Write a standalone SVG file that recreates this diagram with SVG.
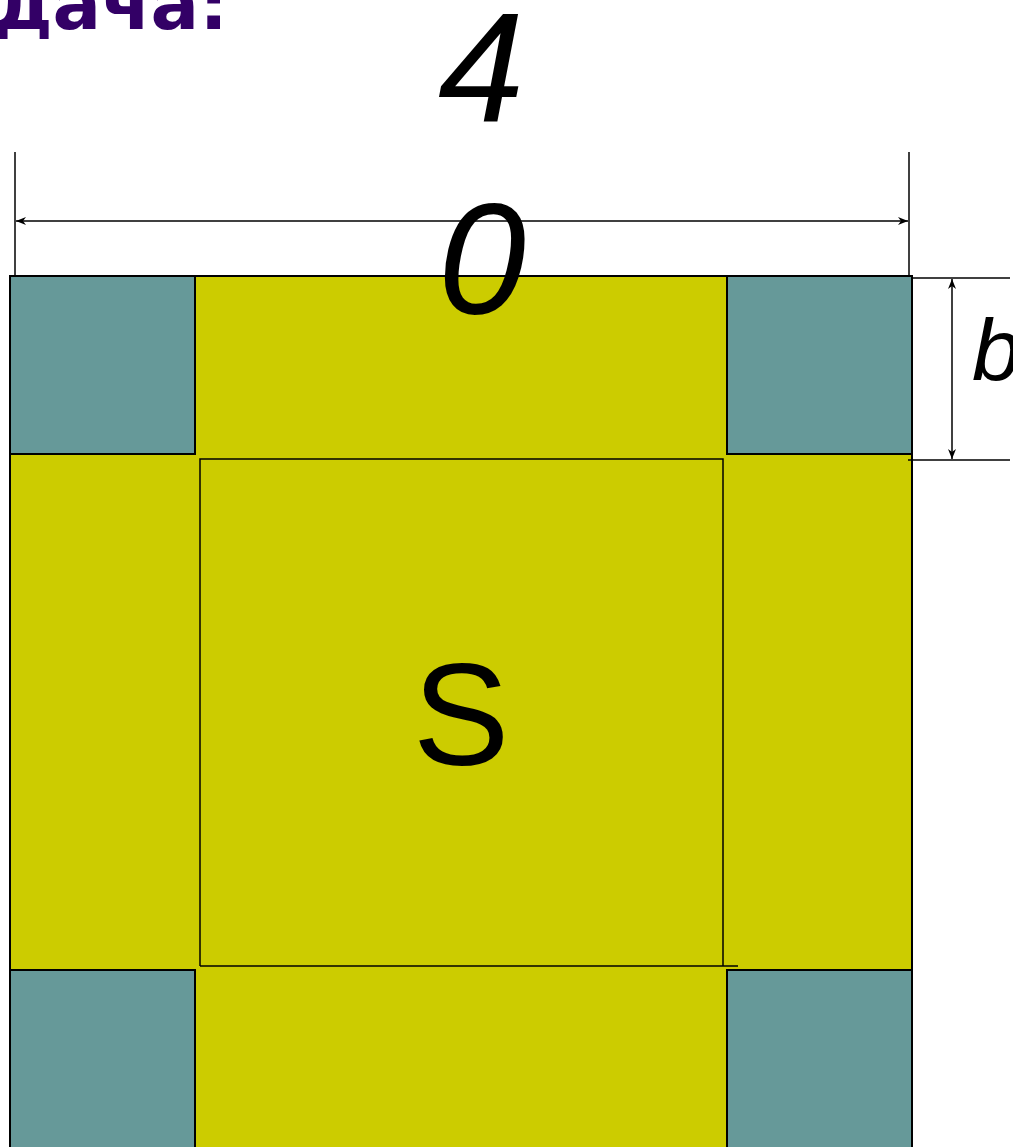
<svg xmlns="http://www.w3.org/2000/svg" width="1013" height="1147" viewBox="0 0 1013 1147">
<style>
.ln{stroke:#000;fill:none;stroke-width:1.5}
.teal{fill:#669999;stroke:#000;stroke-width:2}
.it{font-family:"Liberation Sans",Arial,sans-serif;font-style:italic;fill:#000}
</style>
<defs>
<marker id="ah" viewBox="0 0 10 10" refX="10" refY="5" markerWidth="10" markerHeight="10" markerUnits="userSpaceOnUse" orient="auto-start-reverse">
<path d="M0,1 L10,5 L0,9 L3,5 Z" fill="#000"/>
</marker>
</defs>
<rect width="1013" height="1147" fill="#fff"/>
<text x="228" y="29" text-anchor="end" font-family="DejaVu Sans,Verdana,sans-serif" font-weight="bold" font-size="72" fill="#330066">Задача:</text>
<g id="outer"><rect x="10" y="276" width="902" height="900" fill="#CCCC00" stroke="#000" stroke-width="2"/></g>
<g id="corner-tl"><rect class="teal" x="10" y="276" width="185" height="178"/></g>
<g id="corner-tr"><rect class="teal" x="727" y="276" width="185" height="178"/></g>
<g id="corner-bl"><rect class="teal" x="10" y="970" width="185" height="200"/></g>
<g id="corner-br"><rect class="teal" x="727" y="970" width="185" height="200"/></g>
<g id="inner">
<path class="ln" d="M200,966 V459 H723 V966"/>
<path class="ln" d="M200,966 H738"/>
<text x="461" y="765" text-anchor="middle" font-family="Liberation Sans,Arial,sans-serif" font-size="145" fill="#000">S</text>
</g>
<g id="connectors">
<path class="ln" d="M15,152 V276"/>
<path class="ln" d="M909,152 V276"/>
<path class="ln" d="M16,221 H908" marker-start="url(#ah)" marker-end="url(#ah)"/>
<path class="ln" d="M912,278 H1010"/>
<path class="ln" d="M908,460 H1010"/>
<path class="ln" d="M952,279 V459" marker-start="url(#ah)" marker-end="url(#ah)"/>
</g>
<g id="labels">
<text class="it" x="481" y="121" text-anchor="middle" font-size="155">4</text>
<text class="it" x="482" y="313" text-anchor="middle" font-size="158">0</text>
<text class="it" x="972" y="380" font-size="88">b</text>
</g>
</svg>
